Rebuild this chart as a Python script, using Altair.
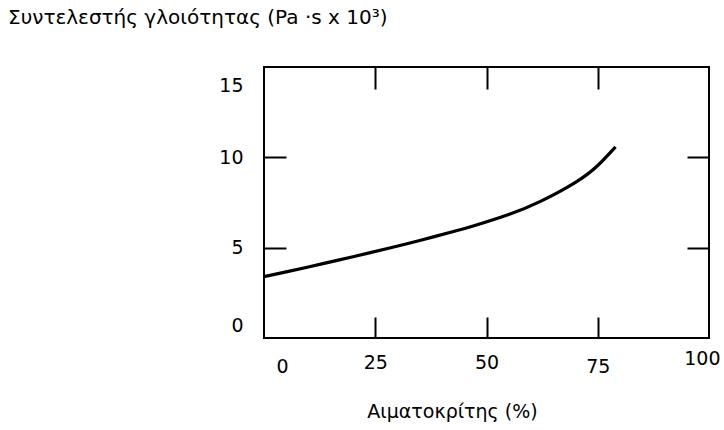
import altair as alt
import pandas as pd

# Curve
hematocrit = [0, 5, 13, 20, 28, 35, 43, 47, 55, 62, 70, 75, 79]
viscosity = [3.4, 3.66, 4.1, 4.5, 4.97, 5.4, 5.92, 6.2, 6.84, 7.55, 8.62, 9.55, 10.58]

x_ticks = [0, 25, 50, 75, 100]
y_ticks = [0, 5, 10, 15]
x_inner_ticks = [25, 50, 75]
y_inner_ticks = [5, 10]

title_text = "Συντελεστής γλοιότητας (Pa ·s x 10³)"
x_title = "Αιματοκρίτης (%)"

W, H = 445, 271
FONT = "DejaVu Sans"
FS = 19

df = pd.DataFrame({"h": hematocrit, "v": viscosity})

xs = alt.Scale(domain=[0, 100], nice=False, zero=False)
ys = alt.Scale(domain=[0, 15], nice=False, zero=False)

base = alt.Chart(df)

line = base.mark_line(color="black", strokeWidth=3.2, interpolate="natural").encode(
    x=alt.X("h:Q", scale=xs, axis=alt.Axis(
        orient="bottom", values=x_ticks, ticks=False, domain=False, grid=False,
        labelFont=FONT, labelFontSize=FS, labelColor="black",
        labelPadding={"condition": [{"test": "datum.value == 100", "value": 11},
                                    {"test": "datum.value == 0 || datum.value == 75", "value": 19}],
                      "value": 15},
        labelOffset={"condition": [{"test": "datum.value == 0", "value": 12},
                                   {"test": "datum.value == 100", "value": 11}],
                     "value": 0},
        title=x_title, titleFont=FONT, titleFontSize=FS, titleFontWeight="normal",
        titleColor="black", titleX=188, titleY=73, titleAlign="center",
        titleBaseline="middle")),
    y=alt.Y("v:Q", scale=ys, axis=alt.Axis(
        orient="left", values=y_ticks, ticks=False, domain=False, grid=False,
        labelFont=FONT, labelFontSize=FS, labelColor="black", labelPadding=21,
        labelOffset={"condition": [{"test": "datum.value == 15", "value": 18},
                                   {"test": "datum.value == 0", "value": -13}],
                     "value": 0},
        title=None)),
)

ticks_a = base.mark_line(opacity=0).encode(
    x=alt.X("h:Q", scale=xs, axis=alt.Axis(
        orient="top", offset=-H, values=x_inner_ticks, labels=False, domain=False,
        grid=False, ticks=True, tickSize=21, tickWidth=2, tickColor="black", title=None)),
    y=alt.Y("v:Q", scale=ys, axis=alt.Axis(
        orient="right", offset=-W, values=y_inner_ticks, labels=False, domain=False,
        grid=False, ticks=True, tickSize=22, tickWidth=2, tickColor="black", title=None)),
)

ticks_b = base.mark_line(opacity=0).encode(
    x=alt.X("h:Q", scale=xs, axis=alt.Axis(
        orient="bottom", offset=-H, values=x_inner_ticks, labels=False, domain=False,
        grid=False, ticks=True, tickSize=22, tickWidth=2, tickColor="black", title=None)),
    y=alt.Y("v:Q", scale=ys, axis=alt.Axis(
        orient="left", offset=-W, values=y_inner_ticks, labels=False, domain=False,
        grid=False, ticks=True, tickSize=22, tickWidth=2, tickColor="black", title=None)),
)

chart = alt.layer(line, ticks_a, ticks_b).resolve_axis(
    x="independent", y="independent"
).properties(
    width=W, height=H,
    autosize=alt.AutoSizeParams(type="none"),
    padding={"left": 264, "top": 67, "right": 15, "bottom": 92},
    background="white",
    title=alt.TitleParams(title_text, anchor="start", frame="group", dx=-256,
                          offset=38, font=FONT, fontSize=20, fontWeight="normal",
                          color="black"),
).configure_view(stroke="black", strokeWidth=2)

chart.save("out.html", embed_options={"renderer": "svg", "actions": False})
